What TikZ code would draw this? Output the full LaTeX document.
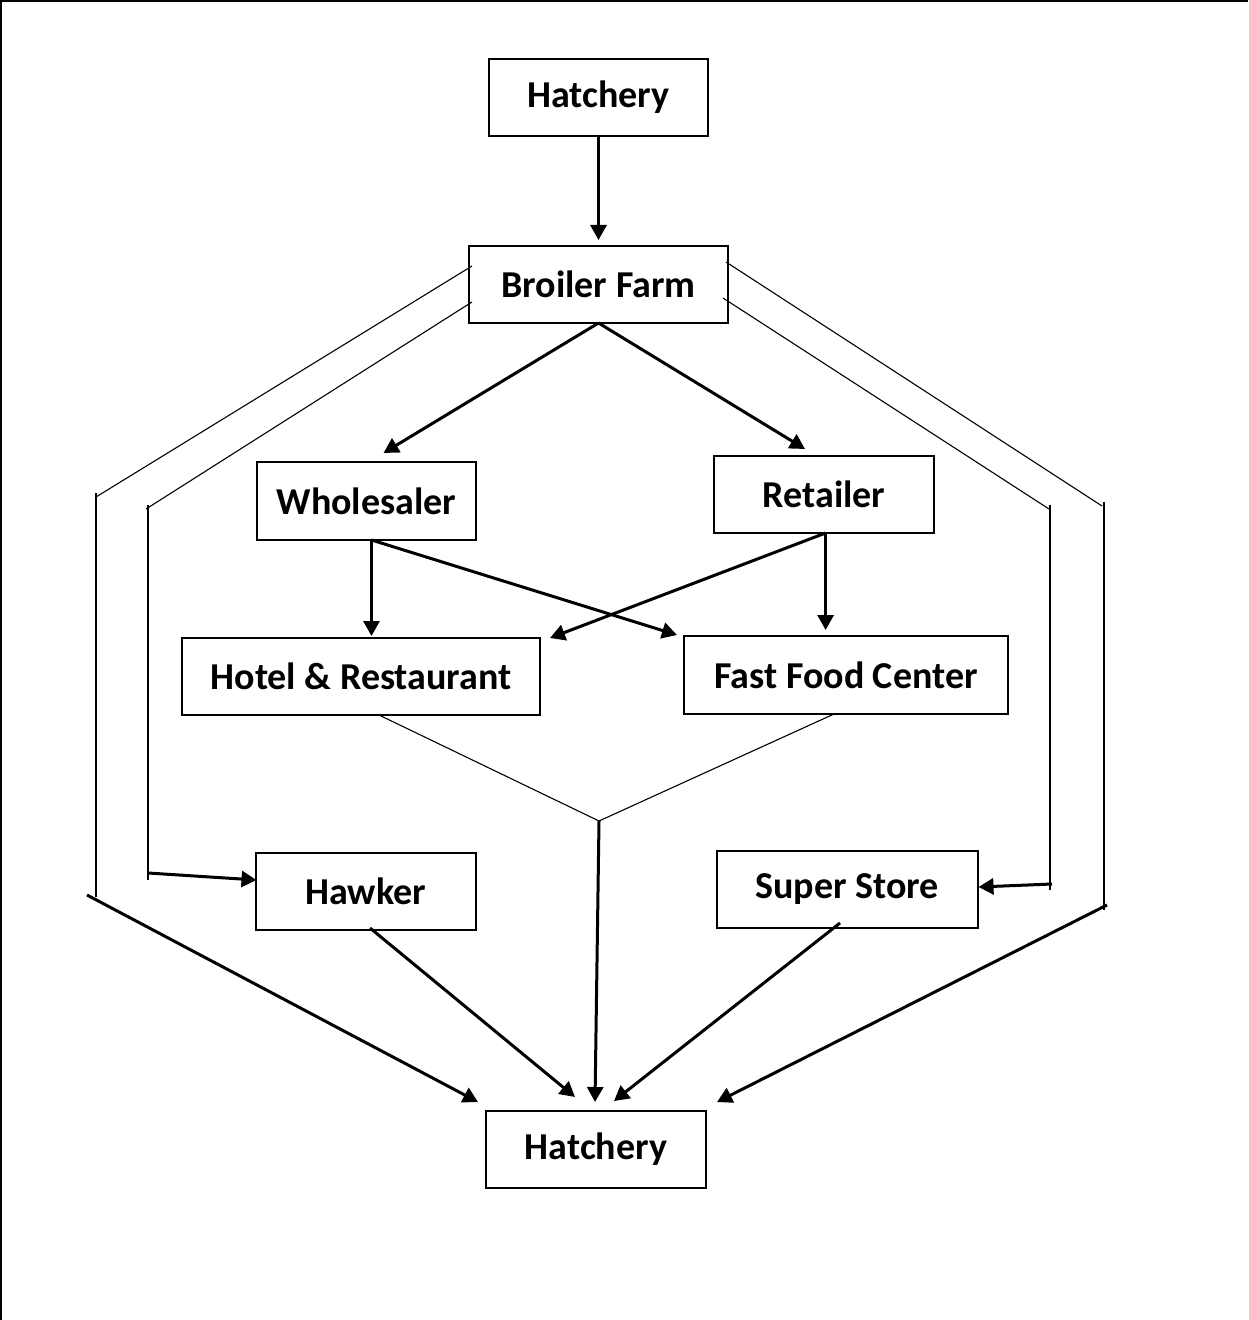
\documentclass[tikz,border=0pt]{standalone}
\usepackage{fontspec}
\setmainfont{Carlito}
\usetikzlibrary{arrows.meta,calc}
\begin{document}
\begin{tikzpicture}[x=0.5pt,y=-0.5pt,
  box/.style={draw,line width=1pt,inner sep=0pt,outer sep=0pt,font=\bfseries\fontsize{19}{22}\selectfont},
  thk/.style={line width=1.5pt,-{Triangle[length=7.5pt,width=8pt]}},
  thn/.style={line width=0.55pt}]
\useasboundingbox (0,0) rectangle (1248,1320);
\draw[line width=1pt] (1,1320) -- (1,1) -- (1248,1);
% boxes
\node[box,minimum width=109.5pt,minimum height=38.5pt] (h1) at (598.5,97.5) {Hatchery};
\node[box,minimum width=129.5pt,minimum height=38.5pt] (bf) at (598.5,284.5) {Broiler Farm};
\node[box,minimum width=109.5pt,minimum height=39pt] (wh) at (366.5,501) {Wholesaler};
\node[box,minimum width=110pt,minimum height=38.5pt] (re) at (824,494.5) {Retailer};
\node[box,minimum width=179pt,minimum height=38.5pt] (ho) at (361,676.5) {Hotel \& Restaurant};
\node[box,minimum width=162pt,minimum height=39pt] (ff) at (846,675) {Fast Food Center};
\node[box,minimum width=110pt,minimum height=38.5pt] (hk) at (365.5,891.5) {Hawker};
\node[box,minimum width=130.5pt,minimum height=38.5pt] (ss) at (847,889.5) {Super Store};
\node[box,minimum width=110pt,minimum height=38.5pt] (h2) at (596,1149.5) {Hatchery};
% main arrows
\draw[thk] (h1.south) -- ($(bf.north)+(0,-6)$);
\draw[thk] (bf.south) -- ($(wh.north)+(17,-9)$);
\draw[thk] (bf.south) -- ($(re.north)+(-19,-7)$);
\draw[thk] ($(wh.south)+(5,0)$) -- ($(ho.north)+(10.5,-2)$);
\draw[thk] ($(wh.south)+(5,0)$) -- ($(ff.north west)+(-7,-1)$);
\draw[thk] ($(re.south)+(1.6,0)$) -- ($(ho.north east)+(10,0)$);
\draw[thk] ($(re.south)+(1.6,0)$) -- ($(ff.north)+(-20.4,-6)$);
% merge
\coordinate (m) at (599,821);
\draw[thn] ($(ho.south)+(18,0)$) -- (m) -- ($(ff.south)+(-12,0)$);
\draw[thk] (m) -- ($(h2.north)+(-1,-9)$);
\draw[thk] ($(hk.south)+(4.5,-2)$) -- ($(h2.north)+(-21,-14)$);
\draw[thk] ($(ss.south)+(-7,-5)$) -- ($(h2.north)+(18,-10)$);
% left outer
\coordinate (lo1) at (96,497);
\coordinate (lo2) at (96,897);
\draw[thn] ($(bf.west)+(3,-18.5)$) -- (lo1);
\draw[thn] ($(lo1)+(0,-4)$) -- (lo2);
\draw[thk] ($(lo2)+(-9,-2)$) -- ($(h2.north)+(-118,-9)$);
% left inner
\coordinate (li1) at (146,509);
\coordinate (li2) at (148,880);
\draw[thn] ($(bf.west)+(3,17.5)$) -- (li1);
\draw[thn] (148,505) -- (li2);
\draw[thk] ($(li2)+(0,-7)$) -- ($(hk.west)+(1,-11.5)$);
% right inner
\coordinate (ri1) at (1049,509);
\coordinate (ri2) at (1050,890);
\draw[thn] ($(bf.east)+(-5,13.5)$) -- (ri1);
\draw[thn,line width=0.65pt] (1050,505) -- (ri2);
\draw[thk] ($(ri2)+(2,-6)$) -- ($(ss.east)+(1,-2.5)$);
% right outer
\coordinate (ro1) at (1102,506);
\coordinate (ro2) at (1104,910);
\draw[thn] ($(bf.east)+(-2,-22.5)$) -- (ro1);
\draw[thn,line width=0.65pt] (1104,502) -- (ro2);
\draw[thk] ($(ro2)+(3,-5)$) -- ($(h2.north)+(121,-9)$);
\end{tikzpicture}
\end{document}
